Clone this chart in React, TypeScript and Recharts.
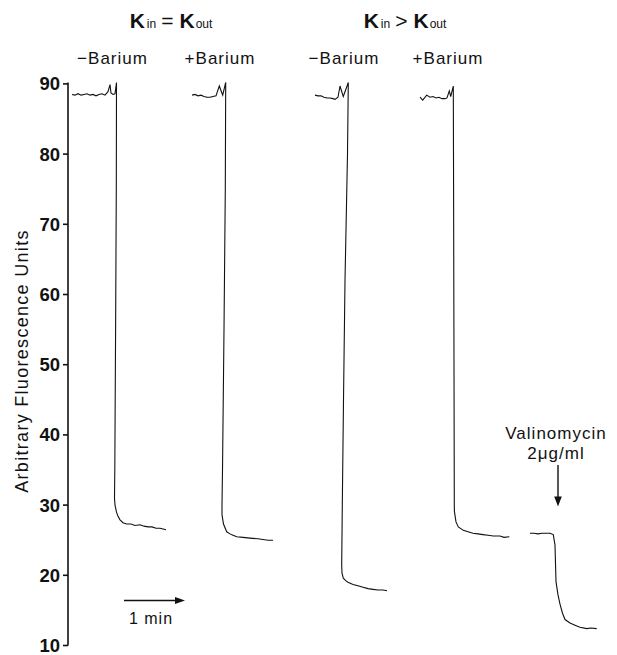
import React from 'react';
import { LineChart, Line, XAxis, YAxis, ReferenceDot, ReferenceLine } from 'recharts';

const FONT = '"Liberation Sans", Arial, Helvetica, sans-serif';
const INK = '#111';

// time in seconds (x), fluorescence in arbitrary units (y)
const yTicks = [10, 20, 30, 40, 50, 60, 70, 80, 90];

const traceEqMinusBa: [number, number][] = [
  [4, 88.5], [7, 88.4], [10, 88.6], [13, 88.4], [16, 88.5], [19, 88.6], [22, 88.4], [25, 88.5],
  [28, 88.3], [31, 88.5], [34, 88.6], [37, 88.4], [40, 88.9], [42, 89.9], [43, 88.7], [45, 88.5],
  [47, 88.6], [48.5, 90.2], [48.3, 75], [47.6, 55], [46.8, 35], [46.5, 31], [47, 30.0], [48.5, 29.0],
  [50, 28.4], [52, 27.9], [55, 27.5], [58.7, 27.3], [63, 27.3], [67, 27.1], [72, 27.2], [76, 27.0],
  [80, 26.9], [84, 26.9], [88, 26.7], [92, 26.7], [95, 26.6], [98, 26.5],
];

const traceEqPlusBa: [number, number][] = [
  [124, 88.4], [127, 88.5], [130, 88.3], [133, 88.4], [136, 88.2], [139, 88.1], [142, 88.1],
  [145, 88.2], [148, 88.3], [151.3, 89.7], [154.7, 88.4], [157.7, 90.2], [157.3, 75], [156, 55],
  [154.5, 35], [154, 30], [154, 28.6], [155.5, 27.3], [158.7, 26.2], [162, 25.9], [165, 25.7],
  [168.7, 25.5], [175, 25.4], [182, 25.3], [190, 25.2], [195, 25.1], [200, 25.0], [205, 25.0],
];

const traceGtMinusBa: [number, number][] = [
  [247, 88.4], [250, 88.3], [253, 88.3], [256, 88.1], [259, 88.0], [262, 88.0], [265, 87.9],
  [267, 87.8], [270, 88.1], [272, 89.7], [275.3, 88.2], [280.3, 90.2], [279.5, 80], [277, 62],
  [275.5, 45], [274.3, 30], [273.7, 21.5], [274, 20.3], [275.3, 19.6], [278, 19.2], [280, 19.0],
  [285, 18.7], [290, 18.5], [295, 18.3], [300, 18.1], [305, 18.0], [310, 17.9], [315, 17.9], [319, 17.8],
];

const traceGtPlusBa: [number, number][] = [
  [352, 88.1], [354.7, 87.7], [358.7, 88.4], [362, 88.1], [365, 88.2], [368, 88.0], [371, 88.1],
  [374, 87.9], [377, 87.9], [379, 88.0], [381.3, 89.0], [382.7, 88.2], [385.3, 89.7], [385.5, 80],
  [386, 50], [386.3, 30], [386.4, 29.1], [388, 27.6], [390.3, 26.9], [395.3, 26.4], [400, 26.2],
  [405, 26.0], [410, 25.9], [415, 25.8], [420, 25.7], [425.3, 25.6], [432, 25.6], [436, 25.4], [441.3, 25.5],
];

const traceValinomycin: [number, number][] = [
  [462, 26.0], [466, 26.0], [470, 25.9], [474, 26.0], [478, 26.0], [482, 26.0], [485.3, 25.8],
  [487, 24.3], [488, 19.1], [490, 17.2], [492, 15.9], [494.5, 14.6], [497, 13.7], [502, 13.2],
  [507, 12.9], [512, 12.6], [518.7, 12.4], [523, 12.5], [528.7, 12.4],
];

const traces = [traceEqMinusBa, traceEqPlusBa, traceGtMinusBa, traceGtPlusBa, traceValinomycin];

// annotation anchors in data units
const groupTitles = [
  { t: 103, v: 98.0, op: '=' },
  { t: 337, v: 98.0, op: '>' },
];
const bariumLabels = [
  { t: 44.5, v: 92.8, text: '\u2212Barium' },
  { t: 152, v: 92.8, text: '+Barium' },
  { t: 276, v: 92.8, text: '\u2212Barium' },
  { t: 380, v: 92.8, text: '+Barium' },
];
const minuteArrow = { t0: 56, t1: 117, v: 16.4, labelT: 83, labelV: 13.0, label: '1 min' };
const valinoArrow = { t: 490, v0: 35.7, v1: 29.8, labelT: 488, line1: 'Valinomycin', v1Label: 39.4, line2: '2\u03bcg/ml', v2Label: 36.6 };

const toRows = (pts: [number, number][]) => pts.map(([t, v]) => ({ t, v }));

const titleShape = (op: string) => (p: any) => (
  <text x={p.cx} y={p.cy} textAnchor="middle" fontFamily={FONT} fill={INK}>
    <tspan fontWeight="bold" fontSize={21}>K</tspan>
    <tspan fontSize={12} dx={2}>in</tspan>
    <tspan fontSize={21} dx={5}>{op}</tspan>
    <tspan fontWeight="bold" fontSize={21} dx={6}>K</tspan>
    <tspan fontSize={12} dx={1}>out</tspan>
  </text>
);

const textShape = (text: string, size = 17) => (p: any) => (
  <text x={p.cx} y={p.cy} textAnchor="middle" fontFamily={FONT} fontSize={size} letterSpacing={1} fill={INK}>
    {text}
  </text>
);

const arrowRight = (p: any) => (
  <polygon points={`${p.cx},${p.cy} ${p.cx - 10},${p.cy - 3.5} ${p.cx - 10},${p.cy + 3.5}`} fill={INK} />
);
const arrowDown = (p: any) => (
  <polygon points={`${p.cx},${p.cy} ${p.cx - 3.8},${p.cy - 10} ${p.cx + 3.8},${p.cy - 10}`} fill={INK} />
);

export default function App() {
  return (
    <LineChart
      width={609}
      height={647}
      margin={{ top: 74.5, right: 9, bottom: 9.5, left: 0 }}
      style={{ fontFamily: FONT }}
    >
      <XAxis dataKey="t" type="number" domain={[0, 540]} hide allowDataOverflow />
      <YAxis
        type="number"
        domain={[10, 90]}
        ticks={yTicks}
        interval={0}
        width={60}
        tickSize={5}
        tickMargin={3}
        axisLine={{ stroke: INK, strokeWidth: 1.6 }}
        tickLine={{ stroke: INK, strokeWidth: 1.6 }}
        tick={{ fill: INK, fontSize: 18.5, fontWeight: 'bold', fontFamily: FONT }}
        label={{
          value: 'Arbitrary Fluorescence Units',
          angle: -90,
          position: 'insideLeft',
          offset: 13.7,
          dy: -3,
          style: { textAnchor: 'middle', fontSize: 18, letterSpacing: 1.3, fill: INK, fontFamily: FONT },
        }}
      />
      {traces.map((tr, i) => (
        <Line
          key={i}
          data={toRows(tr)}
          dataKey="v"
          type="linear"
          stroke={INK}
          strokeWidth={1.1}
          dot={false}
          activeDot={false}
          isAnimationActive={false}
        />
      ))}
      {groupTitles.map((g, i) => (
        <ReferenceDot key={`title${i}`} x={g.t} y={g.v} r={0} ifOverflow="visible" shape={titleShape(g.op)} />
      ))}
      {bariumLabels.map((b, i) => (
        <ReferenceDot key={`ba${i}`} x={b.t} y={b.v} r={0} ifOverflow="visible" shape={textShape(b.text)} />
      ))}
      <ReferenceLine
        segment={[{ x: minuteArrow.t0, y: minuteArrow.v }, { x: minuteArrow.t1 - 9, y: minuteArrow.v }]}
        stroke={INK}
        strokeWidth={1.4}
        ifOverflow="visible"
      />
      <ReferenceDot x={minuteArrow.t1} y={minuteArrow.v} r={0} ifOverflow="visible" shape={arrowRight} />
      <ReferenceDot x={minuteArrow.labelT} y={minuteArrow.labelV} r={0} ifOverflow="visible" shape={textShape(minuteArrow.label, 16)} />
      <ReferenceLine
        segment={[{ x: valinoArrow.t, y: valinoArrow.v0 }, { x: valinoArrow.t, y: valinoArrow.v1 + 1.2 }]}
        stroke={INK}
        strokeWidth={1.4}
        ifOverflow="visible"
      />
      <ReferenceDot x={valinoArrow.t} y={valinoArrow.v1} r={0} ifOverflow="visible" shape={arrowDown} />
      <ReferenceDot x={valinoArrow.labelT} y={valinoArrow.v1Label} r={0} ifOverflow="visible" shape={textShape(valinoArrow.line1)} />
      <ReferenceDot x={valinoArrow.labelT} y={valinoArrow.v2Label} r={0} ifOverflow="visible" shape={textShape(valinoArrow.line2)} />
    </LineChart>
  );
}
